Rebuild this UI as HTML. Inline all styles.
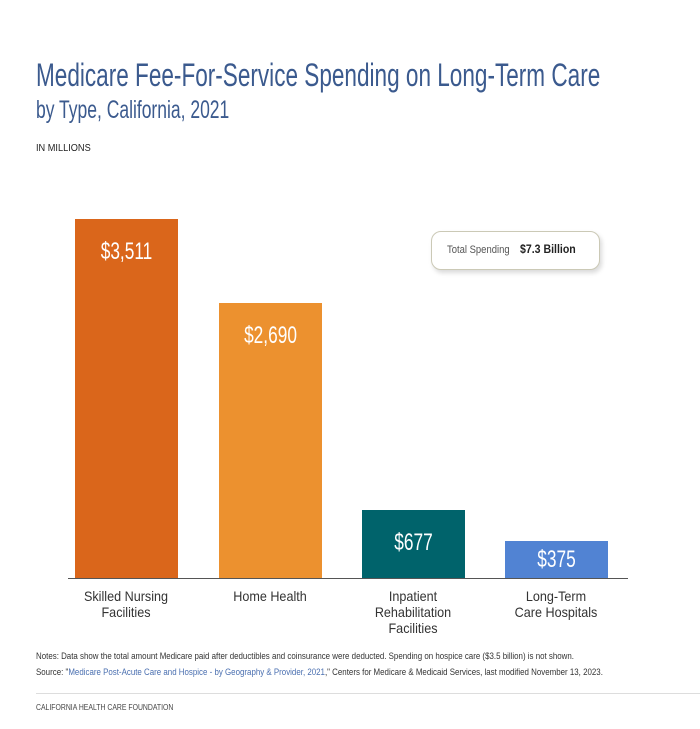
<!DOCTYPE html>
<html><head><style>
body{margin:0;width:700px;height:729px;background:#fff;position:relative;overflow:hidden;font-family:"Liberation Sans",sans-serif;}
.a{position:absolute;white-space:nowrap;transform-origin:0 0}
.bar{position:absolute;width:103px}
.v{position:absolute;width:103px;text-align:center;color:#fff;font-size:24px;transform:scaleX(0.72)}
.c{position:absolute;width:140px;text-align:center;color:#333;font-size:14px;line-height:16px;transform:scaleX(0.9)}
</style></head><body>
<div class="a" style="left:36px;top:57px;font-size:32px;color:#3b5a8e;transform:scaleX(0.705)">Medicare Fee-For-Service Spending on Long-Term Care</div>
<div class="a" style="left:36px;top:96px;font-size:25px;color:#3b5a8e;transform:scaleX(0.70)">by Type, California, 2021</div>
<div class="a" style="left:36px;top:143px;font-size:10px;color:#222;transform:scaleX(0.92)">IN MILLIONS</div>

<div class="bar" style="left:75px;top:219px;height:359px;background:#da661b"></div>
<div class="bar" style="left:219px;top:303px;height:275px;background:#ec912f"></div>
<div class="bar" style="left:362px;top:510px;height:68px;background:#00636b"></div>
<div class="bar" style="left:505px;top:541px;height:37px;background:#5183d3"></div>
<div class="a" style="left:68px;top:578px;width:560px;height:1px;background:#555"></div>

<div class="v" style="left:75px;top:238px">$3,511</div>
<div class="v" style="left:219px;top:322px">$2,690</div>
<div class="v" style="left:362px;top:529px">$677</div>
<div class="v" style="left:505px;top:546px">$375</div>

<div class="c" style="left:56px;top:588px">Skilled Nursing<br>Facilities</div>
<div class="c" style="left:200px;top:588px">Home Health</div>
<div class="c" style="left:343px;top:588px">Inpatient<br>Rehabilitation<br>Facilities</div>
<div class="c" style="left:486px;top:588px">Long-Term<br>Care Hospitals</div>

<div class="a" style="left:431px;top:231px;width:167px;height:37px;border:1.5px solid #cbc9b6;border-radius:10px;box-shadow:2px 3px 5px rgba(0,0,0,0.15);background:#fff"></div>
<div class="a" style="left:447px;top:244px;font-size:11px;color:#555;transform:scaleX(0.86)">Total Spending</div>
<div class="a" style="left:520px;top:242px;font-size:12px;font-weight:bold;color:#222;transform:scaleX(0.88)">$7.3 Billion</div>

<div class="a" style="left:36px;top:651px;font-size:9px;color:#333;transform:scaleX(0.88)">Notes: Data show the total amount Medicare paid after deductibles and coinsurance were deducted. Spending on hospice care ($3.5 billion) is not shown.</div>
<div class="a" style="left:36px;top:667px;font-size:9px;color:#333;transform:scaleX(0.88)">Source: "<span style="color:#4a6fb0">Medicare Post-Acute Care and Hospice - by Geography &amp; Provider, 2021</span>," Centers for Medicare &amp; Medicaid Services, last modified November 13, 2023.</div>
<div class="a" style="left:36px;top:693px;width:664px;height:1px;background:#ddd"></div>
<div class="a" style="left:36px;top:703px;font-size:8px;color:#444;transform:scaleX(0.86)">CALIFORNIA HEALTH CARE FOUNDATION</div>
</body></html>
